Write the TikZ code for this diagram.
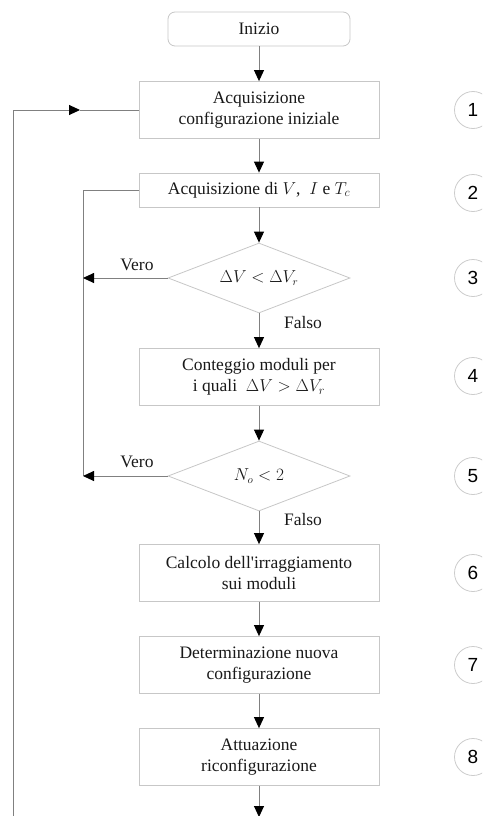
\documentclass[tikz,border=0pt]{standalone}
\usepackage{fontspec}
\setmainfont{Liberation Serif}
\newfontfamily\numfont{Liberation Sans}
\usetikzlibrary{shapes.geometric,arrows.meta}
\tikzset{
  proc/.style={rectangle, draw=black!22, line width=0.8pt, fill=white, minimum width=240pt, minimum height=57pt, inner sep=2pt, align=center, font=\fontsize{17.5}{21}\selectfont, text=black!90},
  startbox/.style={proc, rounded corners=7pt, minimum width=182pt, minimum height=34pt},
  test/.style={diamond, draw=black!22, line width=0.8pt, fill=white, minimum width=182pt, minimum height=70pt, inner sep=0pt, aspect=2.6, font=\fontsize{16}{19}\selectfont, text=black!90},
  numcircle/.style={circle, draw=black!20, line width=0.8pt, minimum size=37pt, inner sep=0pt, font=\numfont\fontsize{19}{22}\selectfont},
  link/.style={draw=black!50, line width=0.9pt},
  arr/.style={link, -{Triangle[length=11pt,width=10pt,color=black]}},
  lbl/.style={font=\fontsize{17.5}{21}\selectfont, text=black!90}
}
\begin{document}
\begin{tikzpicture}[x=1pt, y=-1pt]
  \useasboundingbox (0,0) rectangle (482,816);
  \clip (0,0) rectangle (482,816);

  % Blocks
  \node[startbox] (start) at (259,29) {Inizio};
  \node[proc] (b1) at (259,110) {Acquisizione\\configurazione iniziale};
  \node[proc, minimum height=34pt] (b2) at (259,190) {Acquisizione di $V$, \ $I$ e $T_c$};
  \node[test] (d3) at (259,278) {$\Delta V<\Delta V_r$};
  \node[proc] (b4) at (259,377) {Conteggio moduli per\\i quali \ $\Delta V>\Delta V_r$};
  \node[test] (d5) at (259,476) {$N_o<2$};
  \node[proc] (b6) at (259,573) {Calcolo dell\textquotesingle irraggiamento\\sui moduli};
  \node[proc] (b7) at (259,665) {Determinazione nuova\\configurazione};
  \node[proc] (b8) at (259,757) {Attuazione\\riconfigurazione};

  % Step numbers
  \foreach \k/\y in {1/110, 2/193, 3/278, 4/376, 5/476, 6/573, 7/665, 8/757}
    \node[numcircle] (n\k) at (473,\y) {\k};

  % Loop corners
  \coordinate (outbot) at (13,830);
  \coordinate (outtop) at (13,110);
  \coordinate (outmid) at (80,110);
  \coordinate (intop) at (83,190);
  \coordinate (inbot) at (83,476);
  \coordinate (v3) at (83,278);
  \coordinate (v5) at (83,476);
  \coordinate (end) at (259,817);

  % Main flow
  \draw[arr] (start) -- (b1);
  \draw[arr] (b1) -- (b2);
  \draw[arr] (b2) -- (d3);
  \draw[arr] (d3) -- (b4);
  \draw[arr] (b4) -- (d5);
  \draw[arr] (d5) -- (b6);
  \draw[arr] (b6) -- (b7);
  \draw[arr] (b7) -- (b8);
  \draw[arr] (b8) -- (end);

  % Loops
  \draw[link] (b2.west) -- (intop) -- (inbot);
  \draw[arr] (d3.west) -- (v3);
  \draw[arr] (d5.west) -- (v5);
  \draw[arr] (outbot) -- (outtop) -- (outmid);
  \draw[link] (outmid) -- (b1.west);

  % Branch labels
  \node[lbl] (vero3) at (137,265) {Vero};
  \node[lbl] (falso3) at (303,323) {Falso};
  \node[lbl] (vero5) at (137,462) {Vero};
  \node[lbl] (falso5) at (303,520) {Falso};
\end{tikzpicture}
\end{document}
